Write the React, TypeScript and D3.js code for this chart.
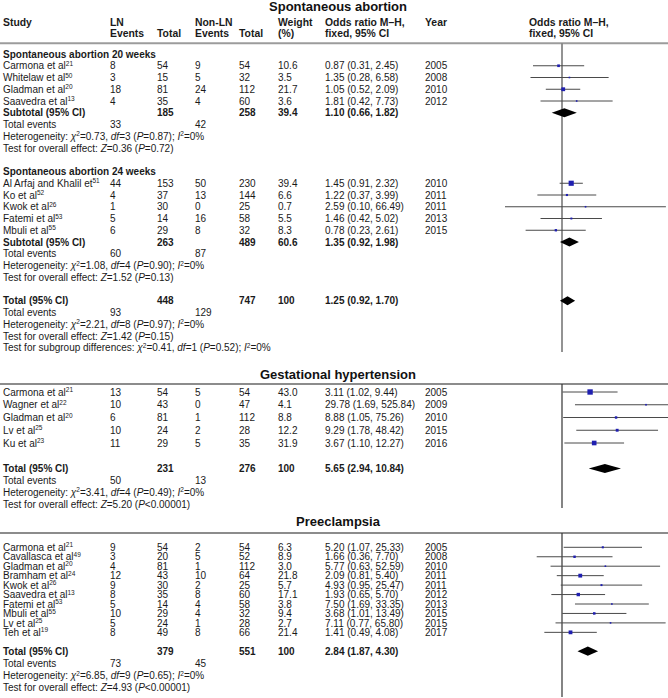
import React from 'react';
import * as d3 from 'd3';

const FONT = "'Liberation Sans', Arial, Helvetica, sans-serif";
const W = 668;
const H = 698;

type Study = {
  name: string; ref: string; e1: number; n1: number; e2: number; n2: number;
  w: number; or: number; lo: number; hi: number; year: number;
};
type Pooled = { n1: number; n2: number; w: number; or: number; lo: number; hi: number; ev1: number; ev2: number };
type Seg = { t: string; i?: boolean; s?: boolean };

// ---------- DATA ----------
const sa20Studies: Study[] = [
  { name: 'Carmona et al', ref: '21', e1: 8, n1: 54, e2: 9, n2: 54, w: 10.6, or: 0.87, lo: 0.31, hi: 2.45, year: 2005 },
  { name: 'Whitelaw et al', ref: '50', e1: 3, n1: 15, e2: 5, n2: 32, w: 3.5, or: 1.35, lo: 0.28, hi: 6.58, year: 2008 },
  { name: 'Gladman et al', ref: '20', e1: 18, n1: 81, e2: 24, n2: 112, w: 21.7, or: 1.05, lo: 0.52, hi: 2.09, year: 2010 },
  { name: 'Saavedra et al', ref: '13', e1: 4, n1: 35, e2: 4, n2: 60, w: 3.6, or: 1.81, lo: 0.42, hi: 7.73, year: 2012 },
];
const sa20Subtotal: Pooled = { n1: 185, n2: 258, w: 39.4, or: 1.10, lo: 0.66, hi: 1.82, ev1: 33, ev2: 42 };
const sa20Stats = { chi: '0.73', df: '3', p: '=0.87', i2: '0%', z: '0.36', pz: '=0.72' };

const sa24Studies: Study[] = [
  { name: 'Al Arfaj and Khalil et', ref: '51', e1: 44, n1: 153, e2: 50, n2: 230, w: 39.4, or: 1.45, lo: 0.91, hi: 2.32, year: 2010 },
  { name: 'Ko et al', ref: '52', e1: 4, n1: 37, e2: 13, n2: 144, w: 6.6, or: 1.22, lo: 0.37, hi: 3.99, year: 2011 },
  { name: 'Kwok et al', ref: '26', e1: 1, n1: 30, e2: 0, n2: 25, w: 0.7, or: 2.59, lo: 0.10, hi: 66.49, year: 2011 },
  { name: 'Fatemi et al', ref: '53', e1: 5, n1: 14, e2: 16, n2: 58, w: 5.5, or: 1.46, lo: 0.42, hi: 5.02, year: 2013 },
  { name: 'Mbuli et al', ref: '55', e1: 6, n1: 29, e2: 8, n2: 32, w: 8.3, or: 0.78, lo: 0.23, hi: 2.61, year: 2015 },
];
const sa24Subtotal: Pooled = { n1: 263, n2: 489, w: 60.6, or: 1.35, lo: 0.92, hi: 1.98, ev1: 60, ev2: 87 };
const sa24Stats = { chi: '1.08', df: '4', p: '=0.90', i2: '0%', z: '1.52', pz: '=0.13' };

const saTotal: Pooled = { n1: 448, n2: 747, w: 100, or: 1.25, lo: 0.92, hi: 1.70, ev1: 93, ev2: 129 };
const saStats = { chi: '2.21', df: '8', p: '=0.97', i2: '0%', z: '1.42', pz: '=0.15' };
const saSubgroup = { chi: '0.41', df: '1', p: '=0.52', i2: '0%' };

const ghStudies: Study[] = [
  { name: 'Carmona et al', ref: '21', e1: 13, n1: 54, e2: 5, n2: 54, w: 43.0, or: 3.11, lo: 1.02, hi: 9.44, year: 2005 },
  { name: 'Wagner et al', ref: '22', e1: 10, n1: 43, e2: 0, n2: 47, w: 4.1, or: 29.78, lo: 1.69, hi: 525.84, year: 2009 },
  { name: 'Gladman et al', ref: '20', e1: 6, n1: 81, e2: 1, n2: 112, w: 8.8, or: 8.88, lo: 1.05, hi: 75.26, year: 2010 },
  { name: 'Lv et al', ref: '25', e1: 10, n1: 24, e2: 2, n2: 28, w: 12.2, or: 9.29, lo: 1.78, hi: 48.42, year: 2015 },
  { name: 'Ku et al', ref: '23', e1: 11, n1: 29, e2: 5, n2: 35, w: 31.9, or: 3.67, lo: 1.10, hi: 12.27, year: 2016 },
];
const ghTotal: Pooled = { n1: 231, n2: 276, w: 100, or: 5.65, lo: 2.94, hi: 10.84, ev1: 50, ev2: 13 };
const ghStats = { chi: '3.41', df: '4', p: '=0.49', i2: '0%', z: '5.20', pz: '<0.00001' };

const peStudies: Study[] = [
  { name: 'Carmona et al', ref: '21', e1: 9, n1: 54, e2: 2, n2: 54, w: 6.3, or: 5.20, lo: 1.07, hi: 25.33, year: 2005 },
  { name: 'Cavallasca et al', ref: '49', e1: 3, n1: 20, e2: 5, n2: 52, w: 8.9, or: 1.66, lo: 0.36, hi: 7.70, year: 2008 },
  { name: 'Gladman et al', ref: '20', e1: 4, n1: 81, e2: 1, n2: 112, w: 3.0, or: 5.77, lo: 0.63, hi: 52.59, year: 2010 },
  { name: 'Bramham et al', ref: '24', e1: 12, n1: 43, e2: 10, n2: 64, w: 21.8, or: 2.09, lo: 0.81, hi: 5.40, year: 2011 },
  { name: 'Kwok et al', ref: '26', e1: 9, n1: 30, e2: 2, n2: 25, w: 5.7, or: 4.93, lo: 0.95, hi: 25.47, year: 2011 },
  { name: 'Saavedra et al', ref: '13', e1: 8, n1: 35, e2: 8, n2: 60, w: 17.1, or: 1.93, lo: 0.65, hi: 5.70, year: 2012 },
  { name: 'Fatemi et al', ref: '53', e1: 5, n1: 14, e2: 4, n2: 58, w: 3.8, or: 7.50, lo: 1.69, hi: 33.35, year: 2013 },
  { name: 'Mbuli et al', ref: '55', e1: 10, n1: 29, e2: 4, n2: 32, w: 9.4, or: 3.68, lo: 1.01, hi: 13.49, year: 2015 },
  { name: 'Lv et al', ref: '25', e1: 5, n1: 24, e2: 1, n2: 28, w: 2.7, or: 7.11, lo: 0.77, hi: 65.80, year: 2015 },
  { name: 'Teh et al', ref: '19', e1: 8, n1: 49, e2: 8, n2: 66, w: 21.4, or: 1.41, lo: 0.49, hi: 4.08, year: 2017 },
];
const peTotal: Pooled = { n1: 379, n2: 551, w: 100, or: 2.84, lo: 1.87, hi: 4.30, ev1: 73, ev2: 45 };
const peStats = { chi: '6.85', df: '9', p: '=0.65', i2: '0%', z: '4.93', pz: '<0.00001' };

const panelTitles = ['Spontaneous abortion', 'Gestational hypertension', 'Preeclampsia'];
const subgroupTitles = ['Spontaneous abortion 20 weeks', 'Spontaneous abortion 24 weeks'];

// ---------- LAYOUT ----------
const COL = { study: 3, e1: 110, n1: 157, e2: 195, n2: 239, w: 278, or: 325, year: 425, plot: 529 };
const x = d3.scaleLog().domain([0.01, 100]).range([448, 676]);
const TXT = '#1a1a1a';
const FS = 10;

const p1 = d3.scaleLinear().domain([0, 1]).range([54, 65.75]);
const p2 = d3.scaleLinear().domain([0, 1]).range([392, 404.75]);
const p2s = d3.scaleLinear().domain([0, 1]).range([468.5, 480.3]);
const p3 = d3.scaleLinear().domain([0, 1]).range([547.3, 556.75]);
const p3s = d3.scaleLinear().domain([0, 1]).range([651.2, 663.4]);

const fmt2 = d3.format('.2f');
const fmtW = (w: number) => (w === 100 ? '100' : w.toFixed(1));
const fmtOR = (o: number, l: number, h: number) => `${fmt2(o)} (${fmt2(l)}, ${fmt2(h)})`;

function Segs({ segs, x0, y, bold }: { segs: Seg[]; x0: number; y: number; bold?: boolean }) {
  let up = false;
  return (
    <text x={x0} y={y} fontSize={FS} fill={TXT} fontWeight={bold ? 'bold' : 'normal'}>
      {segs.map((s, k) => {
        let dy = 0;
        if (s.s && !up) { dy = -3.5; up = true; }
        else if (!s.s && up) { dy = 3.5; up = false; }
        return (
          <tspan key={k} dy={dy} fontStyle={s.i ? 'italic' : 'normal'} fontSize={s.s ? 6.5 : FS}>{s.t}</tspan>
        );
      })}
    </text>
  );
}

const hetSegs = (chi: string, df: string, p: string, i2: string, label = 'Heterogeneity: '): Seg[] => [
  { t: label }, { t: 'χ', i: true }, { t: '2', s: true }, { t: `=${chi}, ` }, { t: 'df', i: true },
  { t: `=${df} (` }, { t: 'P', i: true }, { t: `${p}); ` }, { t: 'I', i: true }, { t: '2', s: true }, { t: `=${i2}` },
];
const zSegs = (z: string, p: string): Seg[] => [
  { t: 'Test for overall effect: ' }, { t: 'Z', i: true }, { t: `=${z} (` }, { t: 'P', i: true }, { t: `${p})` },
];

const BL = 3.6; // baseline offset from row center

function StudyRow({ s, y }: { s: Study; y: number }) {
  const b = y + BL;
  const side = Math.max(1.6, Math.sqrt(s.w) * 0.82);
  return (
    <g>
      <Segs segs={[{ t: s.name }, { t: s.ref, s: true }]} x0={COL.study} y={b} />
      <text x={COL.e1} y={b}>{s.e1}</text>
      <text x={COL.n1} y={b}>{s.n1}</text>
      <text x={COL.e2} y={b}>{s.e2}</text>
      <text x={COL.n2} y={b}>{s.n2}</text>
      <text x={COL.w} y={b}>{fmtW(s.w)}</text>
      <text x={COL.or} y={b}>{fmtOR(s.or, s.lo, s.hi)}</text>
      <text x={COL.year} y={b}>{s.year}</text>
      <line x1={x(s.lo)} x2={x(s.hi)} y1={y} y2={y} stroke="#4a4a4a" strokeWidth={1} />
      <rect x={x(s.or) - side / 2} y={y - side / 2} width={side} height={side} fill="#1f1fb0" />
    </g>
  );
}

function PooledRow({ label, p, y }: { label: string; p: Pooled; y: number }) {
  const b = y + BL;
  const h = 4.6;
  const pts: [number, number][] = [[x(p.lo), y], [x(p.or), y - h], [x(p.hi), y], [x(p.or), y + h]];
  return (
    <g fontWeight="bold">
      <text x={COL.study} y={b}>{label}</text>
      <text x={COL.n1} y={b}>{p.n1}</text>
      <text x={COL.n2} y={b}>{p.n2}</text>
      <text x={COL.w} y={b}>{fmtW(p.w)}</text>
      <text x={COL.or} y={b}>{fmtOR(p.or, p.lo, p.hi)}</text>
      <polygon points={pts.map((q) => q.join(',')).join(' ')} fill="#000" />
    </g>
  );
}

function EventsRow({ p, y }: { p: Pooled; y: number }) {
  const b = y + BL;
  return (
    <g>
      <text x={COL.study} y={b}>Total events</text>
      <text x={COL.e1} y={b}>{p.ev1}</text>
      <text x={COL.e2} y={b}>{p.ev2}</text>
    </g>
  );
}

function Title({ t, y }: { t: string; y: number }) {
  return <text x={338} y={y} textAnchor="middle" fontSize={13} fontWeight="bold" fill="#111">{t}</text>;
}

export default function App() {
  const header1 = 25.5;
  const header2 = 37;
  return (
    <svg width={W} height={H} style={{ position: 'absolute', left: 0, top: 0, background: '#fff' }}
      fontFamily={FONT} fontSize={FS} fill={TXT}>
      <rect width={W} height={H} fill="#fff" />
      {/* Panel 1 */}
      <Title t={panelTitles[0]} y={11} />
      <g fontWeight="bold" fontSize={10.4}>
        <text x={COL.study} y={header1}>Study</text>
        <text x={COL.e1} y={header1}>LN</text>
        <text x={COL.e1} y={header2}>Events</text>
        <text x={COL.n1} y={header2}>Total</text>
        <text x={COL.e2} y={header1}>Non-LN</text>
        <text x={COL.e2} y={header2}>Events</text>
        <text x={COL.n2} y={header2}>Total</text>
        <text x={COL.w} y={header1}>Weight</text>
        <text x={COL.w} y={header2}>(%)</text>
        <text x={COL.or} y={header1}>Odds ratio M–H,</text>
        <text x={COL.or} y={header2}>fixed, 95% CI</text>
        <text x={COL.year} y={header1}>Year</text>
        <text x={COL.plot} y={header1}>Odds ratio M–H,</text>
        <text x={COL.plot} y={header2}>fixed, 95% CI</text>
      </g>
      <line x1={0} x2={W} y1={43.3} y2={43.3} stroke="#9c9c9c" strokeWidth={2} />
      <line x1={x(1)} x2={x(1)} y1={43.3} y2={352} stroke="#808080" strokeWidth={1.7} />

      <text x={COL.study} y={p1(0) + BL} fontWeight="bold">{subgroupTitles[0]}</text>
      {sa20Studies.map((s, i) => <StudyRow key={'a' + i} s={s} y={p1(1 + i)} />)}
      <PooledRow label="Subtotal (95% CI)" p={sa20Subtotal} y={p1(5)} />
      <EventsRow p={sa20Subtotal} y={p1(6)} />
      <Segs segs={hetSegs(sa20Stats.chi, sa20Stats.df, sa20Stats.p, sa20Stats.i2)} x0={COL.study} y={p1(7) + BL} />
      <Segs segs={zSegs(sa20Stats.z, sa20Stats.pz)} x0={COL.study} y={p1(8) + BL} />

      <text x={COL.study} y={p1(10) + BL} fontWeight="bold">{subgroupTitles[1]}</text>
      {sa24Studies.map((s, i) => <StudyRow key={'b' + i} s={s} y={p1(11 + i)} />)}
      <PooledRow label="Subtotal (95% CI)" p={sa24Subtotal} y={p1(16)} />
      <EventsRow p={sa24Subtotal} y={p1(17)} />
      <Segs segs={hetSegs(sa24Stats.chi, sa24Stats.df, sa24Stats.p, sa24Stats.i2)} x0={COL.study} y={p1(18) + BL} />
      <Segs segs={zSegs(sa24Stats.z, sa24Stats.pz)} x0={COL.study} y={p1(19) + BL} />

      <PooledRow label="Total (95% CI)" p={saTotal} y={p1(21)} />
      <EventsRow p={saTotal} y={p1(22)} />
      <Segs segs={hetSegs(saStats.chi, saStats.df, saStats.p, saStats.i2)} x0={COL.study} y={p1(23) + BL} />
      <Segs segs={zSegs(saStats.z, saStats.pz)} x0={COL.study} y={p1(24) + BL} />
      <Segs segs={hetSegs(saSubgroup.chi, saSubgroup.df, saSubgroup.p, saSubgroup.i2, 'Test for subgroup differences: ')} x0={COL.study} y={p1(25) + BL} />

      {/* Panel 2 */}
      <Title t={panelTitles[1]} y={378.5} />
      <line x1={0} x2={W} y1={384} y2={384} stroke="#666" strokeWidth={1.5} />
      <line x1={x(1)} x2={x(1)} y1={384} y2={508} stroke="#333" strokeWidth={1.2} />
      {ghStudies.map((s, i) => <StudyRow key={'c' + i} s={s} y={p2(i)} />)}
      <PooledRow label="Total (95% CI)" p={ghTotal} y={p2s(0)} />
      <EventsRow p={ghTotal} y={p2s(1)} />
      <Segs segs={hetSegs(ghStats.chi, ghStats.df, ghStats.p, ghStats.i2)} x0={COL.study} y={p2s(2) + BL} />
      <Segs segs={zSegs(ghStats.z, ghStats.pz)} x0={COL.study} y={p2s(3) + BL} />

      {/* Panel 3 */}
      <Title t={panelTitles[2]} y={525.5} />
      <line x1={0} x2={W} y1={533} y2={533} stroke="#666" strokeWidth={1.5} />
      <line x1={x(1)} x2={x(1)} y1={533} y2={697} stroke="#333" strokeWidth={1.2} />
      {peStudies.map((s, i) => <StudyRow key={'d' + i} s={s} y={p3(i)} />)}
      <PooledRow label="Total (95% CI)" p={peTotal} y={p3s(0)} />
      <EventsRow p={peTotal} y={p3s(1)} />
      <Segs segs={hetSegs(peStats.chi, peStats.df, peStats.p, peStats.i2)} x0={COL.study} y={p3s(2) + BL} />
      <Segs segs={zSegs(peStats.z, peStats.pz)} x0={COL.study} y={p3s(3) + BL} />
    </svg>
  );
}
